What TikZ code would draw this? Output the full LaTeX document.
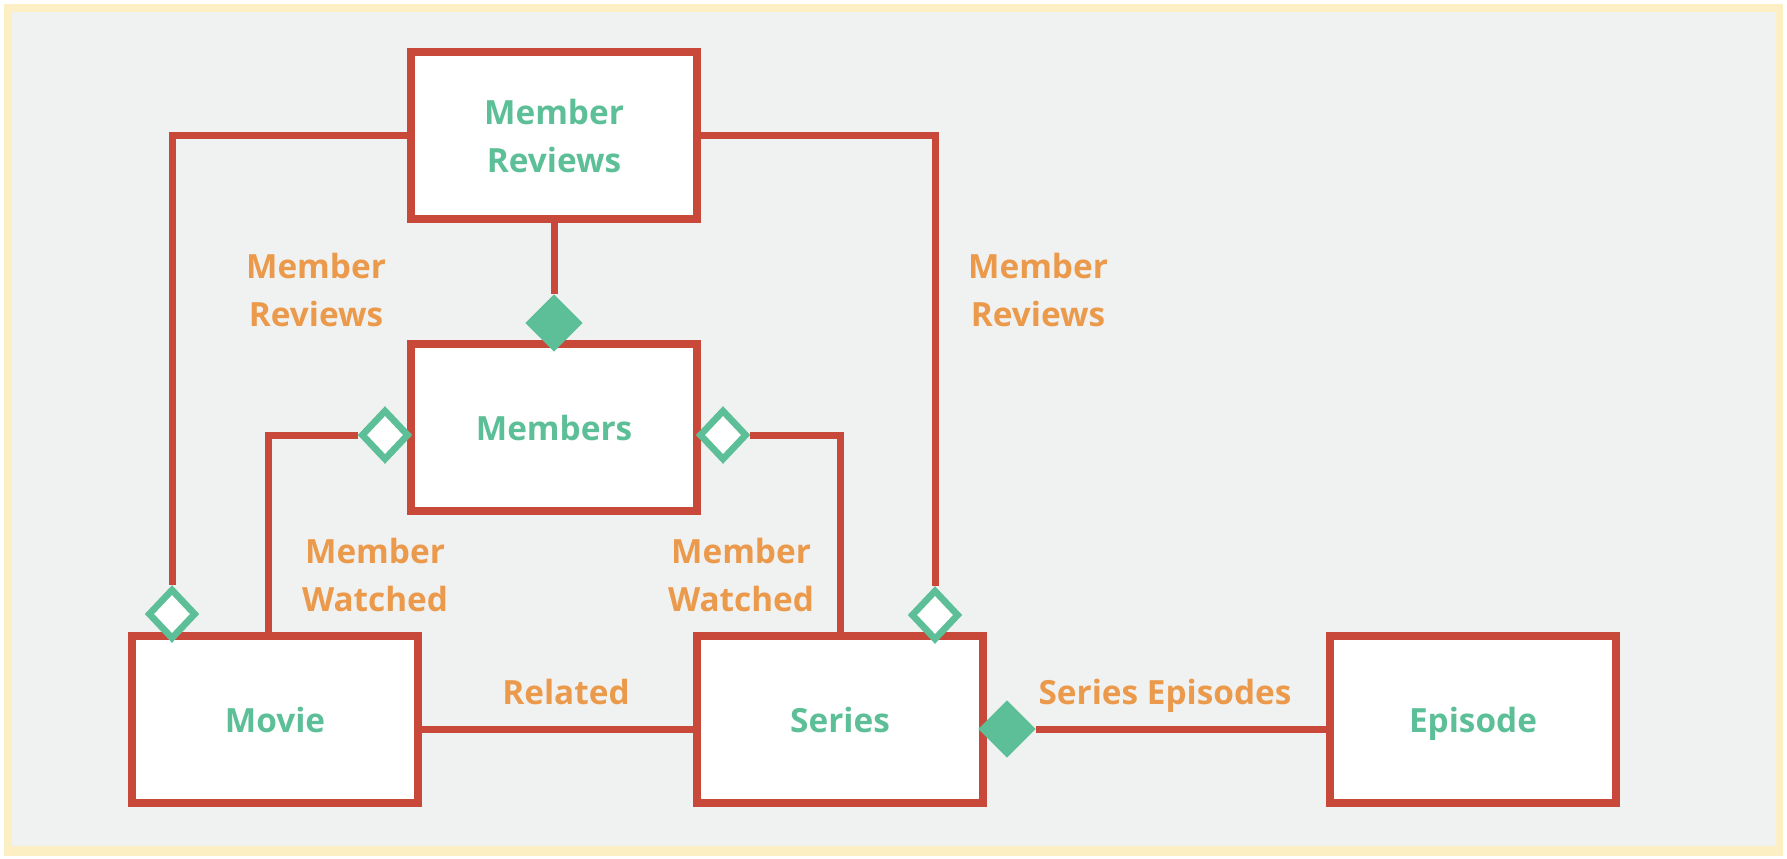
\documentclass[tikz,border=0pt]{standalone}
\usepackage{fontspec}
\setmainfont{Open Sans}
\usetikzlibrary{shapes.geometric}
\pgfdeclarelayer{back}
\pgfdeclarelayer{lines}
\pgfsetlayers{back,lines,main}
\definecolor{bordred}{HTML}{C8493A}
\definecolor{txtgreen}{HTML}{5DBF97}
\definecolor{lblorange}{HTML}{EB9A4C}
\definecolor{bggray}{HTML}{F0F1F1}
\definecolor{frameyel}{HTML}{FCEFC4}
\tikzset{
  entity/.style={draw=bordred, line width=6pt, fill=white, minimum width=214.5pt, minimum height=125.25pt, inner sep=0pt, align=center, text=txtgreen, font=\fontsize{25}{36}\selectfont\bfseries},
  single/.style={text height=18.8pt, text depth=0pt},
  conn/.style={draw=bordred, line width=5.25pt},
  lbl/.style={text=lblorange, align=center, inner sep=0pt, font=\fontsize{25}{36}\selectfont\bfseries},
  odia/.style={shape=diamond, draw=txtgreen, line width=5pt, fill=white, minimum width=36pt, minimum height=38pt, inner sep=0pt},
  fdia/.style={shape=diamond, fill=txtgreen, minimum width=43pt, minimum height=43pt, inner sep=0pt}
}
\begin{document}
\begin{tikzpicture}[x=0.75pt, y=-0.75pt]
\useasboundingbox (0,0) rectangle (1787,858);
\begin{pgfonlayer}{back}
\fill[white] (0,0) rectangle (1787,858);
\fill[frameyel] (4,4) rectangle (1783,856);
\fill[bggray] (12,12) rectangle (1776,846);
\end{pgfonlayer}

% entities
\node[entity] (mr) at (554,135.5) {Member\\Reviews};
\node[entity, single] (members) at (554,427.5) {Members};
\node[entity, single] (movie) at (275,719.5) {Movie};
\node[entity, single] (series) at (840,719.5) {Series};
\node[entity, single] (episode) at (1473,719.5) {Episode};

% diamonds
\node[odia] (dMovieTop) at (172,614) {};
\node[odia] (dSeriesTop) at (935,615) {};
\node[fdia] (dMemTop) at (554,323) {};
\node[odia] (dMemL) at (385,435) {};
\node[odia] (dMemR) at (723,435) {};
\node[fdia] (dSerR) at (1007,729) {};
\coordinate (mwIn) at (268,640);
\coordinate (relY) at (0,729);

% labels
\node[lbl] (lRevL) at (316,290) {Member\\Reviews};
\node[lbl] (lRevR) at (1038,290) {Member\\Reviews};
\node[lbl] (lWatL) at (375,575) {Member\\Watched};
\node[lbl] (lWatR) at (741,575) {Member\\Watched};
\node[lbl, text height=18.8pt, text depth=5pt] (lRel) at (566,695) {Related};
\node[lbl, text height=18.8pt, text depth=5pt] (lSE) at (1165,695) {Series Episodes};

% connectors
\begin{pgfonlayer}{lines}
\draw[conn] (mr.west) -| (dMovieTop.north);
\draw[conn] (mr.east) -| (dSeriesTop.north);
\draw[conn] (mr.south) -- (dMemTop.north);
\draw[conn] (dMemL.west) -| (mwIn);
\draw[conn] (dMemR.east) -| (series.north);
\draw[conn] (movie.east |- relY) -- (series.west |- relY);
\draw[conn] (dSerR.east) -- (episode.west |- dSerR.east);
\end{pgfonlayer}
\end{tikzpicture}
\end{document}
